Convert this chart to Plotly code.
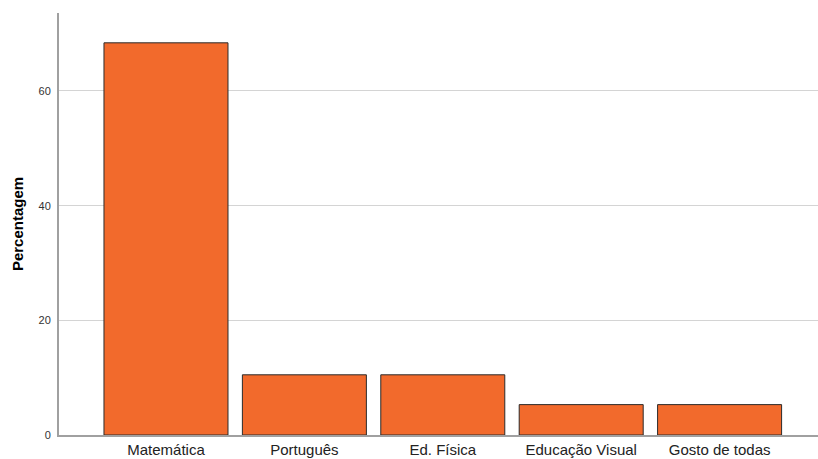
import plotly.graph_objects as go

categories = ["Matemática", "Português", "Ed. Física", "Educação Visual", "Gosto de todas"]
percent = [68.4, 10.5, 10.5, 5.3, 5.3]
y_ticks = [0, 20, 40, 60]

fig = go.Figure()
fig.add_trace(go.Bar(
    x=categories, y=percent,
    width=0.896,
    marker=dict(color="#f26a2c", line=dict(color="#2b2b2b", width=1)),
    hoverinfo="skip",
))

fig.update_layout(
    width=818, height=459,
    margin=dict(l=59, r=0, t=13, b=24),
    paper_bgcolor="white", plot_bgcolor="white",
    showlegend=False,
    font=dict(family="Liberation Sans, Arial, sans-serif", color="#222"),
    xaxis=dict(
        type="category",
        range=[-0.773, 4.711],
        showgrid=False,
        showline=True, linecolor="#a0a0a0", linewidth=2,
        ticks="", tickfont=dict(size=15, color="#222"),
        ticklabelstandoff=0,
        automargin=False,
        fixedrange=True,
    ),
    yaxis=dict(
        range=[0, 73.6],
        tickvals=y_ticks,
        showgrid=True, gridcolor="#d4d4d4", gridwidth=1,
        zeroline=False,
        showline=True, linecolor="#a0a0a0", linewidth=2,
        ticks="", tickfont=dict(size=11, color="#333"),
        ticklabelstandoff=4,
        title=dict(text="<b>Percentagem</b>", font=dict(size=15, color="#000"), standoff=11),
        automargin=False,
        fixedrange=True,
    ),
)

fig.write_html(
    "out.html",
    config={"displayModeBar": False},
    post_script="document.body.style.margin='0';document.body.style.overflow='hidden';",
)
